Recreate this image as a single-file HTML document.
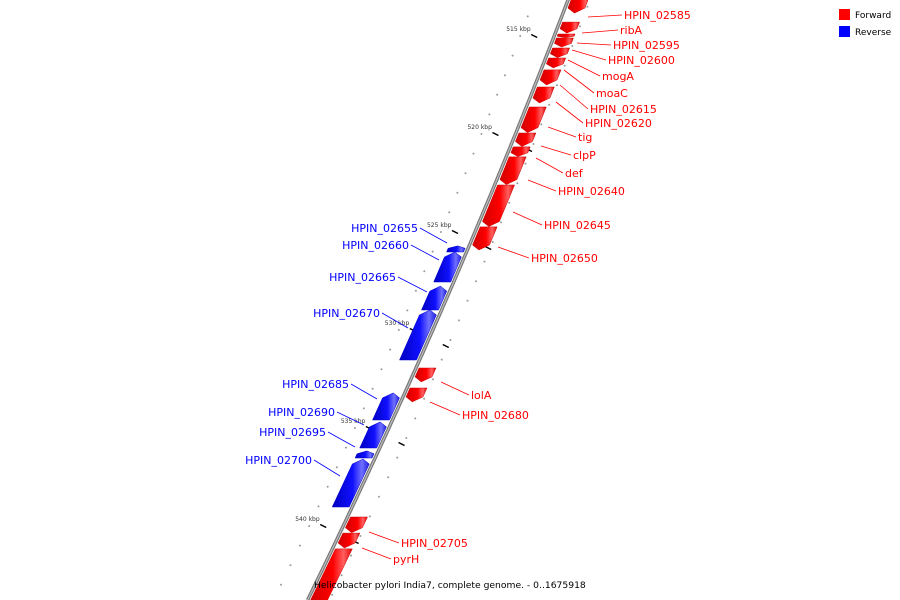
<!DOCTYPE html>
<html><head><meta charset="utf-8"><style>
html,body{margin:0;padding:0;background:#fff;overflow:hidden}
svg{display:block;overflow:hidden}
text{font-family:"DejaVu Sans","Liberation Sans",sans-serif}
</style></head><body>
<svg id="map" width="900" height="600" viewBox="0 0 900 600" xmlns="http://www.w3.org/2000/svg">
<defs>
<linearGradient id="gr" x1="0" x2="1" y1="0" y2="0"><stop offset="0" stop-color="#d00000"/><stop offset="0.55" stop-color="#ff0000"/><stop offset="0.8" stop-color="#ff6060"/><stop offset="1" stop-color="#e00000"/></linearGradient>
<linearGradient id="gb" x1="0" x2="1" y1="0" y2="0"><stop offset="0" stop-color="#0000c0"/><stop offset="0.55" stop-color="#1010ff"/><stop offset="0.8" stop-color="#7070ff"/><stop offset="1" stop-color="#2020e0"/></linearGradient>
<clipPath id="frame"><rect x="0" y="0" width="900" height="600"/></clipPath>
</defs>
<g clip-path="url(#frame)">
<g id="ticks"></g>
<path id="backbone" fill="none" stroke="#777" stroke-width="3.5"/>
<path id="backbone2" fill="none" stroke="#bbb" stroke-width="1.2"/>
<g id="features"></g>
<g id="labels"></g>
</g>
<g>
<rect x="839" y="9" width="11" height="11" fill="#ff0000"/>
<text x="855" y="18" font-size="9">Forward</text>
<rect x="839" y="26" width="11" height="11" fill="#0000ff"/>
<text x="855" y="35" font-size="9">Reverse</text>
</g>
<text x="314" y="588" font-size="9.2" fill="#000">Helicobacter pylori India7, complete genome. - 0..1675918</text>
</svg>
<script>
// gene names, strands, start/end (kbp)
const geneNames = ["HPIN_02585","ribA","HPIN_02595","HPIN_02600","mogA","moaC","HPIN_02615","HPIN_02620","tig","clpP","def","HPIN_02640","HPIN_02645","HPIN_02650","HPIN_02655","HPIN_02660","HPIN_02665","HPIN_02670","lolA","HPIN_02680","HPIN_02685","HPIN_02690","HPIN_02695","HPIN_02700","HPIN_02705","pyrH","HPIN_02715"];
const geneStrand = [1,1,1,1,1,1,1,1,1,1,1,1,1,1,-1,-1,-1,-1,1,1,-1,-1,-1,-1,1,1,1];
const geneStart = [512.9,514.29,514.9,515.1,515.61,516.12,516.73,517.6,518.62,519.95,520.66,521.17,522.6,524.74,525.71,526.02,527.76,528.98,531.94,532.96,533.21,534.69,536.17,536.58,539.54,540.36,541.17];
const geneEnd   = [513.83,514.85,515.08,515.56,516.1,516.63,517.5,518.42,519.93,520.64,521.15,522.58,524.72,525.92,526.02,527.55,528.98,531.53,532.65,533.67,534.59,536.02,536.53,539.03,540.34,541.12,544.2];
const tickKbp = [515,520,525,530,535,540];
const tickLabels = ["515 kbp","520 kbp","525 kbp","530 kbp","535 kbp","540 kbp"];

const NS="http://www.w3.org/2000/svg";
function yOf(k){return 36+(k-515)*19.6;}
function lineX(y){return 568-0.38*y-0.00009*y*y;}
function el(tag,attrs,parent){const e=document.createElementNS(NS,tag);for(const k in attrs)e.setAttribute(k,attrs[k]);parent.appendChild(e);return e;}

let d="";for(let y=-5;y<=600;y+=5){d+=(y===-5?"M":"L")+lineX(y).toFixed(1)+","+y+" ";}
document.getElementById("backbone").setAttribute("d",d);
document.getElementById("backbone2").setAttribute("d",d);

const tg=document.getElementById("ticks");
for(let k=513;k<=543;k++){
  const y=yOf(k);
  const a=el("circle",{cx:lineX(y)-34,cy:y,r:1,fill:"#999"},tg);
  
  
  const b=el("circle",{cx:lineX(y+10)+22,cy:y+10,r:1,fill:"#999"},tg);
  
  
}
tickKbp.forEach((k,i)=>{
  const y=yOf(k);const x=lineX(y)-20;
  const t=el("line",{x1:x-3,y1:y-1.5,x2:x+3,y2:y+1.5,stroke:"#000","stroke-width":1.5},tg);
  
  
  const l=el("text",{x:x-28,y:y-5,"font-size":6,fill:"#333"},tg);
  
  
  l.textContent=tickLabels[i];
  const y2=y+114;const x2=lineX(y2)+20;
  if(y2<600){
  const t2=el("line",{x1:x2-3,y1:y2-1.5,x2:x2+3,y2:y2+1.5,stroke:"#000","stroke-width":1.5},tg);
  
  
  }
});

// label layout [textX, textY, lineStartX, lineStartY]
const labelLayout = [[624,19,588,17],[620,34,582,33],[613,49,577,43],[608,64,572,50],[602,80,568,60],[596,97,564,70],[590,113,560,85],[585,127,556,102],[578,141,548,127],[573,159,541,146],[565,177,536,158],[558,195,528,180],[544,229,513,212],[531,262,498,247],
[418,232,447,243],[409,249,439,260],[396,281,427,292],[380,317,408,328],[471,399,441,382],[462,419,430,402],[349,388,377,399],[335,416,364,425],[326,436,355,447],[312,464,340,476],[401,547,369,532],[393,563,362,548],null];

const fg=document.getElementById("features"),lg=document.getElementById("labels");
geneNames.forEach((n,i)=>{
  const s=geneStrand[i];const y1=yOf(geneStart[i]),y2=yOf(geneEnd[i]);
  const o1=s>0?3:-20,o2=s>0?20:-3;const tip=Math.min(5,(y2-y1)*0.4);
  let pts;
  if(s>0){pts=[[lineX(y1)+o1,y1],[lineX(y1)+o2,y1],[lineX(y2-tip)+o2,y2-tip],[lineX(y2)+(o1+o2)/2,y2],[lineX(y2-tip)+o1,y2-tip]];}
  else{pts=[[lineX(y1+tip)+o1,y1+tip],[lineX(y1)+(o1+o2)/2,y1],[lineX(y1+tip)+o2,y1+tip],[lineX(y2)+o2,y2],[lineX(y2)+o1,y2]];}
  const p=el("polygon",{points:pts.map(q=>q[0].toFixed(1)+","+q[1].toFixed(1)).join(" "),fill:s>0?"url(#gr)":"url(#gb)",stroke:s>0?"#c00":"#00c","stroke-width":0.5},fg);
  
  
  const L=labelLayout[i];if(!L)return;
  const c=s>0?"#ff0000":"#0000ff";
  const ln=el("line",{x1:L[2],y1:L[3],x2:s>0?L[0]-2:L[0]+2,y2:L[1]-4,stroke:c,"stroke-width":0.8},lg);
  
  
  const t=el("text",{x:L[0],y:L[1],"font-size":11,fill:c,"text-anchor":s>0?"start":"end"},lg);
  
  
  t.textContent=n;
});
</script>
</body></html>
